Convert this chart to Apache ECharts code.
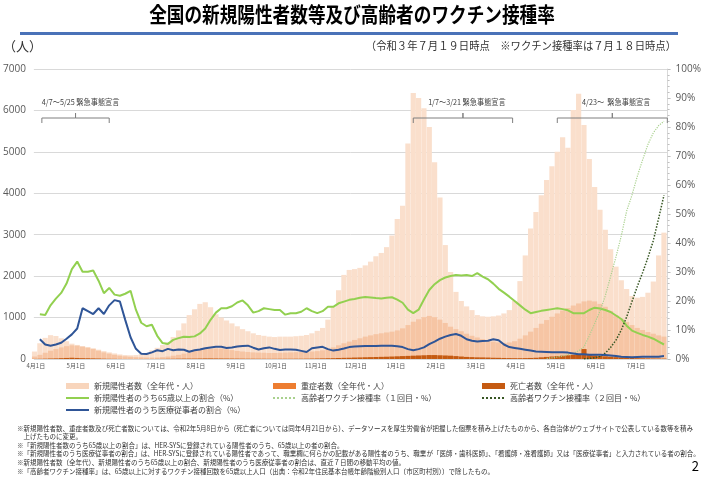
<!DOCTYPE html>
<html><head><meta charset="utf-8">
<script src="https://cdn.jsdelivr.net/npm/echarts@6/dist/echarts.min.js"></script>
<style>html,body{margin:0;padding:0;background:#fff}#c{width:704px;height:477px}</style>
</head><body><div id="c"></div>
<script>
// ---- tick labels (x axis: day index from 2020-04-01, one label per ~30 days) ----
const monthLabels = ['4月1日','5月1日','6月1日','7月1日','8月1日','9月1日','10月1日','11月1日','12月1日','1月1日','2月1日','3月1日','4月1日','5月1日','6月1日','7月1日'];
const LABEL_STEP_DAYS = 30;

// ---- sampling (every 4 days) ----
const DAY_STEP = 4;
const BAR_FIRST_DAY = -1;
const LINE_FIRST_DAY = 3;
const VAX1_FIRST_DAY = 383;
const VAX2_FIRST_DAY = 411;

// 新規陽性者数（人, 7日移動平均）
const newCases = [
 180,380,510,575,555,500,430,370,340,310,
 290,260,225,190,160,135,110,95,90,95,
 115,145,210,270,340,400,530,690,860,1060,
 1200,1330,1370,1250,1080,1000,930,860,790,720,
 670,620,580,560,540,530,540,540,540,550,
 560,580,620,680,750,950,1250,1660,2030,2150,
 2170,2200,2260,2350,2480,2560,2700,2980,3380,3700,
 5200,6420,6300,6050,5600,4750,3900,2750,2100,1620,
 1400,1270,1180,1060,1030,1020,1030,1050,1100,1180,
 1400,1880,2500,3150,3550,3950,4320,4650,5000,5350,
 5100,6010,6400,5650,4830,4150,3600,3120,2650,2230,
 1900,1690,1520,1480,1500,1600,1870,2500,3050
];
// 重症者数（人）
const severeCases = [
 60,100,150,200,240,280,310,330,320,300,
 270,240,200,160,130,100,80,65,55,45,
 40,35,33,35,45,60,80,100,130,160,
 190,220,240,250,255,250,235,215,195,180,
 170,160,155,150,145,145,150,155,160,165,
 170,175,180,190,210,240,280,330,380,420,
 460,500,540,570,600,620,640,660,690,740,
 820,900,960,1010,1040,1010,950,870,780,720,
 670,610,560,520,480,450,420,400,390,400,
 430,490,570,660,750,850,940,1020,1100,1170,
 1230,1290,1340,1390,1410,1390,1330,1260,1160,1060,
 970,890,820,750,700,650,610,570,540
];
// 死亡者数（人）
const deaths = [
 3,5,8,12,15,20,25,30,25,20,
 18,15,12,8,5,4,2,1,1,1,
 1,1,1,2,3,5,6,8,10,10,
 10,12,14,14,13,12,11,10,9,8,
 7,7,6,6,5,5,6,6,6,7,
 7,8,10,12,15,18,20,24,28,30,
 35,38,42,45,48,52,55,60,65,70,
 75,80,85,90,95,95,90,85,80,70,
 60,50,45,40,38,35,30,28,25,22,
 20,20,22,25,30,40,50,60,70,80,
 90,100,105,240,95,85,75,65,55,45,
 38,30,25,20,18,15,13,12,10
];
// 新規陽性者のうち65歳以上の割合（%）
const share65 = [
 15.4,15.2,18.5,20.8,22.8,26.0,31.0,33.6,30.1,
 30.1,30.5,27.0,22.7,24.5,22.2,21.8,22.5,23.5,17.0,
 12.5,11.3,11.8,8.0,5.5,5.2,6.6,7.2,7.7,7.6,
 7.8,8.8,10.5,13.5,16.0,17.5,17.5,18.2,19.5,20.2,
 18.5,16.0,16.5,17.5,17.2,16.9,16.9,15.3,15.8,15.8,
 16.3,17.5,16.5,15.8,16.5,18.0,18.0,19.2,19.8,20.4,
 20.7,21.1,21.4,21.2,21.0,20.9,21.1,21.3,20.5,19.4,
 17.0,15.8,17.0,20.5,23.8,25.8,27.2,28.1,28.6,29.0,
 28.8,29.0,28.6,29.6,28.4,27.5,26.0,24.2,22.9,21.5,
 20.0,18.5,17.0,15.8,16.2,16.6,16.9,17.2,17.5,17.2,
 16.8,15.8,15.8,15.8,16.9,17.7,17.4,16.9,16.2,15.0,
 13.8,11.5,9.8,9.0,8.3,7.7,7.0,6.0,5.0
];
// 新規陽性者のうち医療従事者の割合（%）
const shareMedical = [
 6.8,5.0,4.6,5.0,5.6,7.0,8.5,10.5,17.5,
 16.5,15.5,17.5,15.5,18.5,20.3,19.8,13.5,7.5,3.5,
 1.8,1.7,2.3,3.0,2.7,3.5,3.0,3.3,3.2,2.5,
 3.0,3.3,3.7,4.0,4.2,4.2,3.8,4.0,4.3,
 4.5,4.6,3.9,3.3,3.7,4.0,3.5,3.1,3.3,3.3,3.2,
 2.8,2.4,3.7,4.0,4.2,3.4,2.9,3.2,3.6,4.1,
 4.3,4.4,4.5,4.5,4.5,4.6,4.6,4.6,4.4,4.1,
 3.4,3.0,3.4,4.0,5.1,6.0,7.0,7.7,8.3,8.6,
 8.0,6.8,6.3,6.0,6.2,6.3,6.8,6.5,5.0,4.1,
 3.8,3.5,3.2,2.9,2.6,2.5,2.4,2.3,2.3,2.3,
 2.2,1.9,1.6,1.6,1.5,1.5,1.5,1.4,1.2,1.0,
 0.8,0.7,0.6,0.7,0.8,0.8,0.8,0.8,1.0
];
// 高齢者ワクチン接種率（%）
const vaxDose1 = [0.2,0.4,0.7,1.0,1.5,2.0,2.8,4.2,8.0,12.2,16.5,21.8,28.5,35.2,42.5,51.0,56.5,63.0,68.7,74.0,78.0,80.5,82.0];
const vaxDose2 = [0.1,0.2,0.4,0.9,2.0,4.0,6.5,10.0,14.5,19.8,25.0,29.8,35.0,40.8,48.5,56.5];

// 緊急事態宣言 annotations (day index range of the bracket)
const emergencyPeriods = [
  {label:'4/7～5/25 緊急事態宣言', from:4.5, to:55, align:'left'},
  {label:'1/7～3/21 緊急事態宣言', from:283, to:357.5, align:'center'},
  {label:'4/23～  緊急事態宣言', from:391, to:473.5, align:'center'}
];

const footnotes = [
 '※新規陽性者数、重症者数及び死亡者数については、令和2年5月8日から（死亡者については同年4月21日から）、データソースを厚生労働省が把握した個票を積み上げたものから、各自治体がウェブサイトで公表している数等を積み',
 '　上げたものに変更。',
 '※「新規陽性者数のうち65歳以上の割合」は、HER-SYSに登録されている陽性者のうち、65歳以上の者の割合。',
 '※「新規陽性者のうち医療従事者の割合」は、HER-SYSに登録されている陽性者であって、職業欄に何らかの記載がある陽性者のうち、職業が「医師・歯科医師」、「看護師・准看護師」又は「医療従事者」と入力されている者の割合。',
 '※新規陽性者数（全年代）、新規陽性者のうち65歳以上の割合、新規陽性者のうち医療従事者の割合は、直近７日間の移動平均の値。',
 '※「高齢者ワクチン接種率」は、65歳以上に対するワクチン接種回数を65歳以上人口（出典：令和2年住民基本台帳年齢階級別人口（市区町村別））で除したもの。'
];

const N_CASES = '新規陽性者数（全年代・人）';
const N_SEV = '重症者数（全年代・人）';
const N_DEATH = '死亡者数（全年代・人）';
const N_65 = '新規陽性者のうち65歳以上の割合（%）';
const N_V1 = '高齢者ワクチン接種率（１回目・%）';
const N_V2 = '高齢者ワクチン接種率（２回目・%）';
const N_MED = '新規陽性者のうち医療従事者の割合（%）';

function pairs(arr, first){ return arr.map((v,i)=>[first + DAY_STEP*i, v]); }

const JP = '"Noto Sans CJK JP", sans-serif';
const chart = echarts.init(document.getElementById('c'), null, {renderer:'canvas'});

const legendText = {fontFamily: JP, fontSize: 8, color:'#404040', lineHeight: 10};
const legendBase = {orient:'vertical', top: 381, itemGap: 2, itemWidth: 23, itemHeight: 6, textStyle: legendText, selectedMode:false, padding:0};
const noSym = {opacity:0};
const BAR_W = 5.2;

chart.setOption({
  animation:false,
  textStyle:{fontFamily: JP},
  grid:{left:33, right:32, top:69, bottom:118},
  legend:[
    Object.assign({left:65, data:[{name:N_CASES, icon:'rect', itemStyle:{color:'#F8D5BC'}}, {name:N_65, itemStyle:noSym}, {name:N_MED, itemStyle:noSym}]}, legendBase),
    Object.assign({left:272, data:[{name:N_SEV, icon:'rect', itemStyle:{color:'#ED7D31'}}, {name:N_V1, itemStyle:noSym}]}, legendBase),
    Object.assign({left:481, data:[{name:N_DEATH, icon:'rect'}, {name:N_V2, itemStyle:noSym}]}, legendBase)
  ],
  xAxis:{
    type:'value', min:-1.5, max:473.7,
    splitLine:{show:false}, axisLine:{show:false}, axisTick:{show:false},
    axisLabel:{
      customValues: monthLabels.map((_, i) => i*LABEL_STEP_DAYS),
      formatter: v => monthLabels[Math.round(v/LABEL_STEP_DAYS)] || '',
      fontSize:6, color:'#595959', margin:4, fontFamily: JP
    }
  },
  yAxis:[
    {type:'value', min:0, max:7000, interval:1000,
     axisLine:{show:false}, axisTick:{show:false},
     axisLabel:{formatter: v => String(v), fontSize:10, color:'#595959', margin:8, fontFamily:'"Open Sans", sans-serif'},
     splitLine:{lineStyle:{color:'#d9d9d9', width:1}}},
    {type:'value', min:0, max:100, interval:10, position:'right',
     axisLine:{show:true, lineStyle:{color:'#d9d9d9'}},
     axisTick:{show:true, length:3, lineStyle:{color:'#bfbfbf'}},
     minorTick:{show:true, splitNumber:5, length:2, lineStyle:{color:'#bfbfbf'}},
     axisLabel:{formatter:'{value}%', fontSize:10, color:'#595959', margin:8, fontFamily:'"Open Sans", sans-serif'},
     splitLine:{show:false}}
  ],
  series:[
    {name:N_CASES, type:'bar', data:pairs(newCases, BAR_FIRST_DAY), barWidth:BAR_W, barGap:'-100%', itemStyle:{color:'#FADFCC'}, z:1},
    {name:N_SEV, type:'bar', data:pairs(severeCases, BAR_FIRST_DAY), barWidth:BAR_W, barGap:'-100%', itemStyle:{color:'rgba(237,125,49,0.26)'}, z:2},
    {name:N_DEATH, type:'bar', data:pairs(deaths, BAR_FIRST_DAY), barWidth:BAR_W, barGap:'-100%', itemStyle:{color:'#C55A11'}, z:3},
    {name:N_65, type:'line', yAxisIndex:1, data:pairs(share65, LINE_FIRST_DAY), symbol:'none', lineStyle:{color:'#92D050', width:2}, itemStyle:{color:'#92D050'}, z:5},
    {name:N_V1, type:'line', yAxisIndex:1, data:pairs(vaxDose1, VAX1_FIRST_DAY), symbol:'none', lineStyle:{color:'#A9D18E', width:1.2, type:'dotted'}, itemStyle:{color:'#A9D18E'}, z:5},
    {name:N_V2, type:'line', yAxisIndex:1, data:pairs(vaxDose2, VAX2_FIRST_DAY), symbol:'none', lineStyle:{color:'#375623', width:1.5, type:'dotted'}, itemStyle:{color:'#375623'}, z:5},
    {name:N_MED, type:'line', yAxisIndex:1, data:pairs(shareMedical, LINE_FIRST_DAY), symbol:'none', lineStyle:{color:'#2F5597', width:2}, itemStyle:{color:'#2F5597'}, z:6}
  ]
});

function txt(text, x, y, font, fill, align, extra){
  return Object.assign({type:'text', x:x, y:y, silent:true, z:100,
    style:{text:text, font:font, fill:fill, align:align||'left', verticalAlign:'middle', textAlign:align||'left', textVerticalAlign:'middle'}}, extra||{});
}

const g = [];
g.push(txt('全国の新規陽性者数等及び高齢者のワクチン接種率', 352, 14, 'bold 21px ' + JP, '#000', 'center', {scaleX:0.84}));
g.push({type:'rect', shape:{x:20, y:32, width:658, height:3}, style:{fill:'#4A72B8'}, silent:true});
g.push(txt('（人）', 3, 46, '13px ' + JP, '#333', 'left'));
g.push(txt('（令和３年７月１９日時点　※ワクチン接種率は７月１８日時点）', 676, 46, '11px ' + JP, '#333', 'right', {scaleX:0.94}));

emergencyPeriods.forEach(p => {
  const x1 = chart.convertToPixel({xAxisIndex:0}, p.from);
  const x2 = chart.convertToPixel({xAxisIndex:0}, p.to);
  const xm = (x1 + x2) / 2;
  g.push({type:'polyline', silent:true, z:100, shape:{points:[[x1,123],[x1,118],[xm,118],[xm,113],[xm,118],[x2,118],[x2,123]]},
          style:{stroke:'#7f7f7f', fill:null, lineWidth:1}});
  g.push(txt(p.label, p.align === 'left' ? x1 : xm + 4, 102, '8px ' + JP, '#404040', p.align === 'left' ? 'left' : 'center', {scaleX:0.9}));
});

footnotes.forEach((t, i) => {
  g.push(txt(t, 17, 428 + i*8.6, '7px ' + JP, '#333', 'left', {scaleX:0.93}));
});
g.push(txt('2', 699, 466, '13px ' + JP, '#000', 'right'));

chart.setOption({graphic: g});
</script>
</body></html>
